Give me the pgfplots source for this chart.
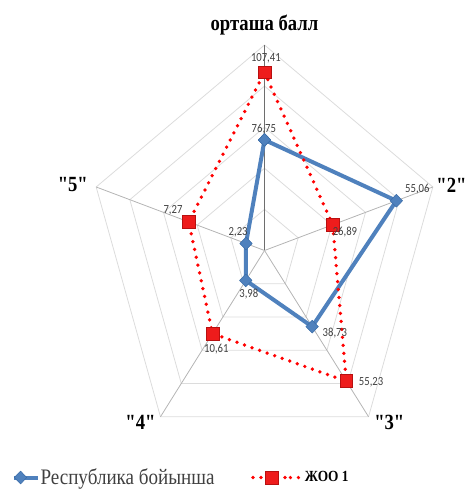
\documentclass[border=0pt]{standalone}
\usepackage{pgfplots}
\pgfplotsset{compat=1.18}
\usepackage{pgfplotstable}
\usepackage{graphicx}
\usepackage{fontspec}
\setmainfont{Liberation Serif}
\newfontfamily\valfont{Carlito}

\definecolor{repblue}{HTML}{4F81BD}
\definecolor{repblueedge}{HTML}{3A6DA8}
\definecolor{joored}{HTML}{FF0000}
\definecolor{jooredfill}{HTML}{EE1C1C}
\definecolor{jooredge}{HTML}{B81010}
\definecolor{ringgray}{HTML}{DCDCDC}
\definecolor{spokegray}{HTML}{B4B4B4}
\definecolor{topspoke}{HTML}{6E6E6E}
\definecolor{valgray}{HTML}{404040}

% angle, radius (outer ring = 100), shown value, label shift in pt
\pgfplotstableread{
ang r lab dx dy
90 53.8 76,75 -0.5 8.1
18 78.3 55,06 15.8 8.9
-54 45.8 38,73 17.0 -5.0
-126 18.0 3,98 2.3 -10.6
162 11.0 2,23 -5.9 8.1
90 53.8 {} 0 0
}\republic

\pgfplotstableread{
ang r lab dx dy
90 86.7 107,41 1.0 10.5
18 40.5 26,89 9.2 -5.7
-54 78.6 55,23 18.6 -0.6
-126 50.0 10,61 2.9 -11.9
162 45.0 7,27 -11.8 8.6
90 86.7 {} 0 0
}\jooone

\begin{document}
\begin{tikzpicture}
\begin{axis}[
    x=1.3275pt, y=1.54125pt,
    xmin=-149.44, xmax=114.41, ymin=-116.06, ymax=121.9,
    hide axis, clip=false,
    legend columns=2,
    legend cell align=left,
    legend style={draw=none, fill=none, inner sep=0pt, outer sep=0pt,
        at={(0.0254,0.0235)}, anchor=west,
        nodes={inner sep=0.5pt},
        /tikz/every odd column/.append style={column sep=0pt},
        /tikz/every even column/.append style={column sep=27pt}},
]
% pentagon rings
\addplot[ringgray, line width=0.6pt, data cs=polar, forget plot] coordinates {(90,20) (18,20) (-54,20) (-126,20) (162,20) (90,20)};
\addplot[ringgray, line width=0.6pt, data cs=polar, forget plot] coordinates {(90,40) (18,40) (-54,40) (-126,40) (162,40) (90,40)};
\addplot[ringgray, line width=0.6pt, data cs=polar, forget plot] coordinates {(90,60) (18,60) (-54,60) (-126,60) (162,60) (90,60)};
\addplot[ringgray, line width=0.6pt, data cs=polar, forget plot] coordinates {(90,80) (18,80) (-54,80) (-126,80) (162,80) (90,80)};
\addplot[ringgray, line width=0.6pt, data cs=polar, forget plot] coordinates {(90,100) (18,100) (-54,100) (-126,100) (162,100) (90,100)};
% spokes
\addplot[spokegray, line width=0.6pt, data cs=polar, forget plot] coordinates {(18,0) (18,100)};
\addplot[spokegray, line width=0.6pt, data cs=polar, forget plot] coordinates {(-54,0) (-54,100)};
\addplot[spokegray, line width=0.6pt, data cs=polar, forget plot] coordinates {(-126,0) (-126,100)};
\addplot[spokegray, line width=0.6pt, data cs=polar, forget plot] coordinates {(162,0) (162,100)};
\addplot[topspoke, line width=0.6pt, data cs=polar, forget plot] coordinates {(90,0) (90,100)};

% Республика бойынша
\addplot[repblue, line width=3pt, line join=round,
    mark=diamond*, mark size=4.8pt,
    mark options={fill=repblue, draw=repblueedge, line width=0.4pt, xscale=1.3},
    data cs=polar,
    nodes near coords, point meta=explicit symbolic,
    visualization depends on={\thisrow{dx} \as \labdx},
    visualization depends on={\thisrow{dy} \as \labdy},
    nodes near coords style={font=\valfont\fontsize{8}{9}\selectfont, text=valgray,
        anchor=center, xshift=\labdx, yshift=\labdy, yscale=1.16},
    legend image code/.code={
        \draw[mark repeat=2, mark phase=2] plot coordinates {(0pt,0pt) (5pt,0pt) (18pt,0pt)};}
] table[x=ang, y=r, meta=lab] {\republic};

% ЖОО 1
\addplot[joored, line width=2.8pt, dash pattern=on 0pt off 6pt, line cap=round,
    mark=square*, mark size=4.8pt,
    mark options={solid, fill=jooredfill, draw=jooredge, line width=0.5pt},
    data cs=polar,
    nodes near coords, point meta=explicit symbolic,
    visualization depends on={\thisrow{dx} \as \labdx},
    visualization depends on={\thisrow{dy} \as \labdy},
    nodes near coords style={font=\valfont\fontsize{8}{9}\selectfont, text=valgray,
        anchor=center, xshift=\labdx, yshift=\labdy, yscale=1.16},
    legend image code/.code={
        \draw[mark repeat=2, mark phase=2] plot coordinates {(0pt,0pt) (14pt,0pt) (28pt,0pt)};
        \path (28pt,0pt) -- (37pt,0pt);}
] table[x=ang, y=r, meta=lab] {\jooone};

% category labels
\addplot[draw=none, forget plot, nodes near coords, point meta=explicit symbolic,
    nodes near coords style={font=\bfseries\fontsize{14}{14}\selectfont, anchor=center, yscale=1.16}]
    coordinates {(-108.3,31.9) [\textquotedbl5\textquotedbl] (105.6,31.9) [\textquotedbl2\textquotedbl]
                 (-70.1,-83.7) [\textquotedbl4\textquotedbl] (70.5,-83.7) [\textquotedbl3\textquotedbl]};
\addplot[draw=none, forget plot, nodes near coords, point meta=explicit symbolic,
    nodes near coords style={font=\bfseries\fontsize{14}{14}\selectfont, anchor=base, yscale=1.16}]
    coordinates {(0,107.1) [орташа балл]};

\legend{{\fontsize{14.3}{15}\selectfont\color{valgray}\scalebox{1}[1.16]{Республика бойынша}},
        {\bfseries\fontsize{10}{10}\selectfont\scalebox{1}[1.16]{ЖОО 1}}}
\end{axis}
\pgfresetboundingbox
\path[use as bounding box] (current axis.south west) rectangle (current axis.north east);
\end{tikzpicture}
\end{document}
